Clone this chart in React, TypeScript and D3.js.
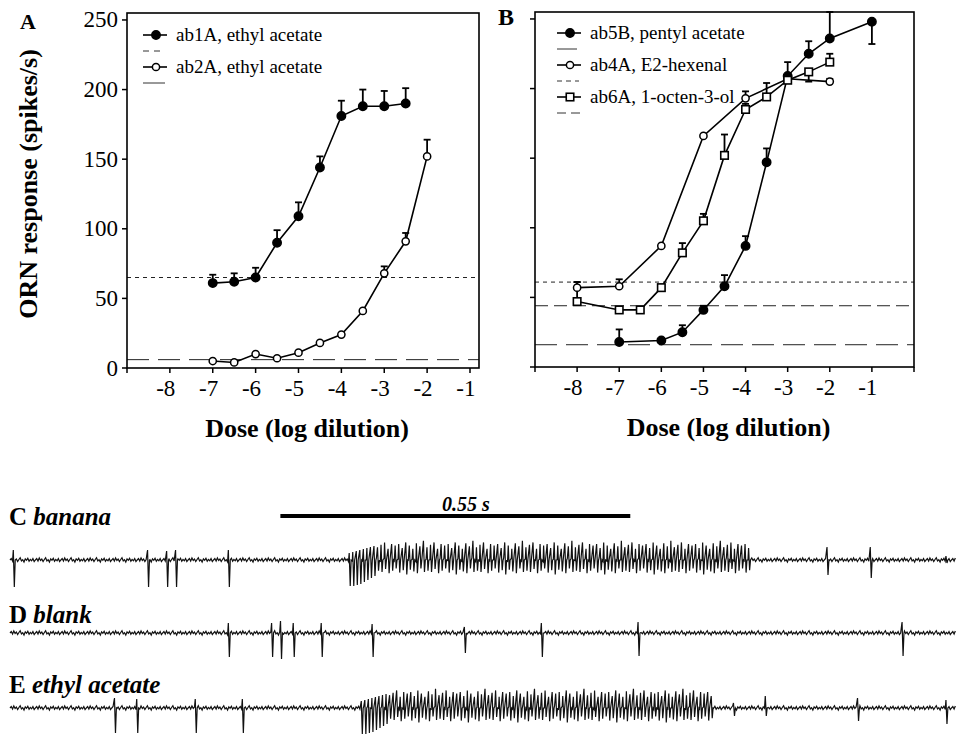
import React, { useEffect, useRef } from "react";
import * as d3 from "d3";

// ---- Panel A: ethyl acetate (spikes/s) ----
const dosesAb1A = [-7, -6.5, -6, -5.5, -5, -4.5, -4, -3.5, -3, -2.5];
const ab1A = [61, 62, 65, 90, 109, 144, 181, 188, 188, 190];
const ab1AErr = [6, 6, 7, 9, 10, 8, 11, 12, 11, 11];

const dosesAb2A = [-7, -6.5, -6, -5.5, -5, -4.5, -4, -3.5, -3, -2.5, -2];
const ab2A = [5, 4, 10, 7, 11, 18, 24, 41, 68, 91, 152];
const ab2AErr = [1, 1, 1, 1, 1, 1, 1, 1, 5, 6, 12];

const spontA = [65, 6]; // ab1A, ab2A

// ---- Panel B ----
const dosesAb5B = [-7, -6, -5.5, -5, -4.5, -4, -3.5, -3, -2.5, -2, -1];
const ab5B = [18, 19, 25, 41, 58, 87, 147, 209, 225, 236, 248];
const ab5BErr = [9, 1, 5, 3, 8, 7, 10, 10, 9, 19, -16];

const dosesAb4A = [-8, -7, -6, -5, -4, -3, -2];
const ab4A = [57, 58, 87, 166, 193, 207, 205];
const ab4AErr = [4, 5, 1, 1, 5, 1, 2];

const dosesAb6A = [-8, -7, -6.5, -6, -5.5, -5, -4.5, -4, -3.5, -3, -2.5, -2];
const ab6A = [47, 41, 41, 57, 82, 105, 152, 185, 194, 206, 212, 219];
const ab6AErr = [14, 1, 1, 1, 7, 5, 15, 4, 10, 1, -7, 6];

const spontB = [16, 61, 44]; // ab5B, ab4A, ab6A

const yTicks = [0, 50, 100, 150, 200, 250];

// ---- Spike traces (times in s) ----
const traceCSpikes = [0.006, 0.217, 0.247, 0.261, 0.344, 1.285, 1.353, 1.472];
const traceCUp = [10, 10, 9, 10, 10, 13, 13, 4];
const traceCDown = [27, 27, 27, 27, 27, 15, 18, 3];
const traceCBurst = [0.534, 1.168];

const traceDSpikes = [0.344, 0.412, 0.426, 0.446, 0.49, 0.57, 0.715, 0.836, 0.988, 1.403];
const traceDUp = [10, 10, 12, 10, 10, 9, 6, 10, 11, 11];
const traceDDown = [24, 24, 26, 24, 24, 24, 20, 24, 23, 23];

const traceESpikes = [0.165, 0.2, 0.292, 0.366, 1.138, 1.188, 1.333, 1.472];
const traceEUp = [10, 9, 9, 9, 5, 12, 10, 8];
const traceEDown = [25, 25, 25, 25, 8, 8, 13, 16];
const traceEBurst = [0.553, 1.109];

const burstRate = 180; // spikes/s
const burstOnsetDown = [26, 26, 25, 24, 22, 20, 18, 16];
const burstAmp = [1.0, 0.75, 1.1, 0.9, 0.7, 1.05, 0.85, 1.2, 0.8, 0.95, 1.1, 0.7, 1.0, 0.9];
const noise = [0, 1.5, -1, 2, -0.5, 1, -1.5, 0.5, 2.2, -1, 0.3, -2, 1.2, -0.3, 1.8, -1.2, 0.6, -0.8, 1.4, -1.6];

const FONT = "'Liberation Serif', 'Times New Roman', serif";

type Series = {
  doses: number[];
  values: number[];
  errs: number[];
  marker: "filled" | "open" | "square";
};

type LegendRow = { label?: string; marker?: "filled" | "open" | "square"; dash?: number[][] };

const App = () => {
  const ref = useRef<SVGSVGElement>(null);

  useEffect(() => {
    const svg = d3.select(ref.current);
    svg.selectAll("*").remove();

    const drawMarker = (g: any, kind: string, x: number, y: number) => {
      if (kind === "square") {
        g.append("rect")
          .attr("x", x - 3.75)
          .attr("y", y - 3.75)
          .attr("width", 7.5)
          .attr("height", 7.5)
          .attr("fill", "#fff")
          .attr("stroke", "#000")
          .attr("stroke-width", 1.6);
      } else {
        g.append("circle")
          .attr("cx", x)
          .attr("cy", y)
          .attr("r", kind === "filled" ? 4.2 : 3.6)
          .attr("fill", kind === "filled" ? "#000" : "#fff")
          .attr("stroke", "#000")
          .attr("stroke-width", 1.5);
      }
    };

    const drawPanel = (
      left: number,
      right: number,
      top: number,
      bottom: number,
      xMax: number,
      xTicks: number[],
      series: Series[],
      spont: number[],
      spontDash: string[],
      legend: LegendRow[],
      legendX: number,
      legendY: number,
      showYLabels: boolean
    ) => {
      const x = d3.scaleLinear().domain([-9, xMax]).range([left, right]);
      const y = d3.scaleLinear().domain([0, 255]).range([bottom, top]);
      const g = svg.append("g");

      // spontaneous activity lines
      spont.forEach((v, i) => {
        g.append("line")
          .attr("x1", left)
          .attr("x2", right)
          .attr("y1", y(v))
          .attr("y2", y(v))
          .attr("stroke", "#222")
          .attr("stroke-width", 1)
          .attr("stroke-dasharray", spontDash[i]);
      });

      // frame
      g.append("rect")
        .attr("x", left)
        .attr("y", top)
        .attr("width", right - left)
        .attr("height", bottom - top)
        .attr("fill", "none")
        .attr("stroke", "#000")
        .attr("stroke-width", 1.6);

      yTicks.forEach((t) => {
        g.append("line")
          .attr("x1", left - 5)
          .attr("x2", left)
          .attr("y1", y(t))
          .attr("y2", y(t))
          .attr("stroke", "#000")
          .attr("stroke-width", 1.5);
        if (showYLabels) {
          g.append("text")
            .attr("x", left - 9)
            .attr("y", y(t) + 7.5)
            .attr("text-anchor", "end")
            .attr("font-family", FONT)
            .attr("font-size", 23)
            .text(t);
        }
      });

      xTicks.forEach((t) => {
        g.append("line")
          .attr("x1", x(t))
          .attr("x2", x(t))
          .attr("y1", bottom)
          .attr("y2", bottom + 5)
          .attr("stroke", "#000")
          .attr("stroke-width", 1.5);
        if (t > -9 && t < 0) {
          g.append("text")
            .attr("x", x(t) + 5.5)
            .attr("y", bottom + 28)
            .attr("text-anchor", "end")
            .attr("font-family", FONT)
            .attr("font-size", 23)
            .text(`-${Math.abs(t)}`);
        }
      });

      series.forEach((s) => {
        const pts: [number, number][] = s.doses.map((d, i) => [x(d), y(s.values[i])]);
        g.append("path")
          .attr("d", d3.line()(pts))
          .attr("fill", "none")
          .attr("stroke", "#000")
          .attr("stroke-width", 1.6);
        // error bars
        s.doses.forEach((d, i) => {
          const e = s.errs[i];
          if (Math.abs(e) < 2) return;
          const y0 = y(s.values[i]);
          const y1 = y(Math.min(s.values[i] + e, 255));
          g.append("line")
            .attr("x1", x(d))
            .attr("x2", x(d))
            .attr("y1", y0)
            .attr("y2", y1)
            .attr("stroke", "#000")
            .attr("stroke-width", 1.8);
          g.append("line")
            .attr("x1", x(d) - 3.5)
            .attr("x2", x(d) + 3.5)
            .attr("y1", y1)
            .attr("y2", y1)
            .attr("stroke", "#000")
            .attr("stroke-width", 1.8);
        });
      });
      series.forEach((s) => {
        s.doses.forEach((d, i) => drawMarker(g, s.marker, x(d), y(s.values[i])));
      });

      // legend
      legend.forEach((row, i) => {
        const cy = legendY + i * 16;
        if (row.label) {
          g.append("line")
            .attr("x1", legendX)
            .attr("x2", legendX + 24)
            .attr("y1", cy)
            .attr("y2", cy)
            .attr("stroke", "#000")
            .attr("stroke-width", 1.6);
          drawMarker(g, row.marker!, legendX + 13, cy);
          g.append("text")
            .attr("x", legendX + 33)
            .attr("y", cy + 6)
            .attr("font-family", FONT)
            .attr("font-size", 19)
            .text(row.label);
        } else if (row.dash) {
          row.dash.forEach(([a, b]) => {
            g.append("line")
              .attr("x1", legendX + a)
              .attr("x2", legendX + b)
              .attr("y1", cy)
              .attr("y2", cy)
              .attr("stroke", "#333")
              .attr("stroke-width", 1);
          });
        }
      });

      // x title
      g.append("text")
        .attr("x", (left + right) / 2 + 4)
        .attr("y", bottom + 69)
        .attr("text-anchor", "middle")
        .attr("font-family", FONT)
        .attr("font-weight", "bold")
        .attr("font-size", 26)
        .text("Dose (log dilution)");
    };

    drawPanel(
      127,
      479,
      13,
      368,
      -0.79,
      [-9, -8, -7, -6, -5, -4, -3, -2, -1],
      [
        { doses: dosesAb1A, values: ab1A, errs: ab1AErr, marker: "filled" },
        { doses: dosesAb2A, values: ab2A, errs: ab2AErr, marker: "open" },
      ],
      spontA,
      ["4,4", "22,9"],
      [
        { label: "ab1A, ethyl acetate", marker: "filled" },
        { dash: [[0, 6], [11, 17]] },
        { label: "ab2A, ethyl acetate", marker: "open" },
        { dash: [[0, 22]] },
      ],
      143,
      35,
      true
    );

    drawPanel(
      535,
      914,
      12,
      367,
      0,
      [-9, -8, -7, -6, -5, -4, -3, -2, -1, 0],
      [
        { doses: dosesAb5B, values: ab5B, errs: ab5BErr, marker: "filled" },
        { doses: dosesAb4A, values: ab4A, errs: ab4AErr, marker: "open" },
        { doses: dosesAb6A, values: ab6A, errs: ab6AErr, marker: "square" },
      ],
      spontB,
      ["22,9", "4,4", "13,6"],
      [
        { label: "ab5B, pentyl acetate", marker: "filled" },
        { dash: [[0, 20]] },
        { label: "ab4A, E2-hexenal", marker: "open" },
        { dash: [[0, 5], [9, 14], [18, 22]] },
        { label: "ab6A, 1-octen-3-ol", marker: "square" },
        { dash: [[0, 9], [14, 23]] },
      ],
      557,
      33,
      false
    );

    // panel letters and y title
    svg.append("text")
      .attr("x", 20).attr("y", 29)
      .attr("font-family", FONT).attr("font-weight", "bold").attr("font-size", 22)
      .text("A");
    svg.append("text")
      .attr("x", 498).attr("y", 25)
      .attr("font-family", FONT).attr("font-weight", "bold").attr("font-size", 24)
      .text("B");
    svg.append("text")
      .attr("transform", "translate(37,184) rotate(-90)")
      .attr("text-anchor", "middle")
      .attr("font-family", FONT).attr("font-weight", "bold").attr("font-size", 26)
      .text("ORN response (spikes/s)");

    // ---- spike traces ----
    const tx = d3.scaleLinear().domain([0, 1.487]).range([10, 956]);

    const drawTrace = (
      base: number,
      times: number[],
      ups: number[],
      downs: number[],
      burst: number[] | null
    ) => {
      const spikes: { t: number; up: number; down: number }[] = times.map((t, i) => ({
        t,
        up: ups[i],
        down: downs[i],
      }));
      if (burst) {
        const n = Math.round((burst[1] - burst[0]) * burstRate);
        d3.range(n).forEach((k) => {
          const a = burstAmp[k % burstAmp.length];
          const onset = burstOnsetDown[k];
          spikes.push({
            t: burst[0] + k / burstRate,
            up: onset ? 7 + k : 16 * a,
            down: onset ? onset : 12 * burstAmp[(k + 5) % burstAmp.length],
          });
        });
      }
      const dt = 0.002;
      const pts: [number, number][] = [];
      d3.range(0, 1.487, dt).forEach((t, i) => {
        if (spikes.some((s) => t > s.t - 0.0015 && t < s.t + 0.003)) return;
        pts.push([t, noise[i % noise.length]]);
      });
      spikes.forEach((s) => {
        pts.push([s.t - 0.0008, s.up]);
        pts.push([s.t + 0.0008, -s.down]);
        pts.push([s.t + 0.0022, 0]);
      });
      pts.sort((a, b) => a[0] - b[0]);
      const line = d3
        .line<[number, number]>()
        .x((d) => tx(d[0]))
        .y((d) => base - d[1]);
      svg.append("path")
        .attr("d", line(pts))
        .attr("fill", "none")
        .attr("stroke", "#111")
        .attr("stroke-width", 1.2);
    };

    drawTrace(560, traceCSpikes, traceCUp, traceCDown, traceCBurst);
    drawTrace(633, traceDSpikes, traceDUp, traceDDown, null);
    drawTrace(708, traceESpikes, traceEUp, traceEDown, traceEBurst);

    // scale bar
    svg.append("line")
      .attr("x1", tx(0.425)).attr("x2", tx(0.975))
      .attr("y1", 516).attr("y2", 516)
      .attr("stroke", "#000").attr("stroke-width", 4);
    svg.append("text")
      .attr("x", 442).attr("y", 511)
      .attr("font-family", FONT).attr("font-weight", "bold").attr("font-style", "italic")
      .attr("font-size", 20)
      .text("0.55 s");

    const label = (y: number, letter: string, word: string) => {
      const t = svg.append("text")
        .attr("x", 9).attr("y", y)
        .attr("font-family", FONT).attr("font-weight", "bold").attr("font-size", 25);
      t.append("tspan").text(letter + " ");
      t.append("tspan").attr("font-style", "italic").text(word);
    };
    label(525, "C", "banana");
    label(623, "D", "blank");
    label(693, "E", "ethyl acetate");
  }, []);

  return (
    <svg
      ref={ref}
      width={956}
      height={734}
      style={{ position: "absolute", left: 0, top: 0, background: "#fff" }}
    />
  );
};

export default App;
